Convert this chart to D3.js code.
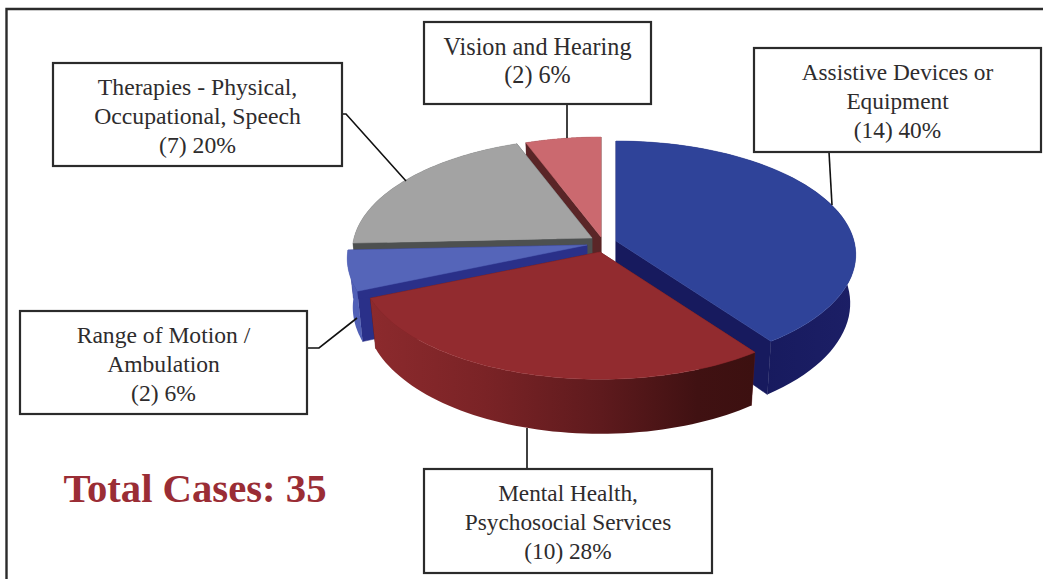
<!DOCTYPE html>
<html><head><meta charset="utf-8">
<script src="https://cdn.jsdelivr.net/npm/d3@7"></script>
<style>html,body{margin:0;padding:0;background:#fff}svg{display:block}text{font-family:"Liberation Serif",serif}</style>
</head><body><svg id="c" width="1043" height="579"></svg>
<script>
// ---- data ----
const categories = ["Assistive Devices or Equipment","Mental Health, Psychosocial Services","Range of Motion / Ambulation","Therapies - Physical, Occupational, Speech","Vision and Hearing"];
const counts = [14,10,2,7,2];
const percentLabels = ["40%","28%","6%","20%","6%"];
const labelLines = [["Assistive Devices or","Equipment"],["Mental Health,","Psychosocial Services"],["Range of Motion /","Ambulation"],["Therapies - Physical,","Occupational, Speech"],["Vision and Hearing"]];
const totalLabel = "Total Cases: 35";

// ---- layout and style ----
const apex = [[616,241],[600,252],[587,245],[592,238],[601,237]];
const topFill = ["#2f4399","#922b2f","#5565b9","#a3a3a3","#cb696f"];
const endWall = ["#171a5e","#5c1a1c","#2a3089","#4d5050","#5a2527"];
const rimWall = ["url(#rimBlue)","url(#rimRed)","#5160b6","#4d5050","#5a2527"];
const boxes = [[754,48,287,104,[80,109,138]],[424,469,288,104,[501,530,559]],[20,311,287,103,[343,372,401]],[53,63,289,103,[95,124,153]],[424,22,227,82,[55,83]]];
const labelSize = [23.3,23.3,23.6,23.7,24.2];
const leaders = [[[829,152],[832,205]],[[527,428],[527,469]],[[307,348],[319,348],[357,318]],[[342,114],[346,114],[406,181]],[[567,104],[567,138]]];
const rx=238, ry=112, p=0.12, depth=48, shrink=0.977;

const svg=d3.select("#c");
const defs=svg.append("defs");
function grad(id,stops){
  const g=defs.append("linearGradient").attr("id",id).attr("x1",0).attr("x2",1).attr("y1",0).attr("y2",0);
  stops.forEach(([o,c])=>g.append("stop").attr("offset",o).attr("stop-color",c));
}
grad("rimRed",[[0,"#8c2a2d"],[0.3,"#7a2326"],[0.6,"#5e1a1d"],[0.85,"#401112"],[1,"#3c1010"]]);
grad("rimBlue",[[0,"#15185a"],[0.6,"#171a5e"],[1,"#1c1f66"]]);

const pie=d3.pie().sort(null).startAngle(0).endAngle(2*Math.PI);
const arcs=pie(counts);
const line=d3.line();
// perspective projection of a point on the unit disc at height 0 (top) or 1 (floor)
function proj(r,a,floor,c){
  const u=r*Math.sin(a), v=-r*Math.cos(a), den=1-p*v;
  const x=rx*u/den, y=ry*v/den;
  return floor? [c[0]+x*shrink, c[1]+y+depth/den] : [c[0]+x, c[1]+y];
}
const angles=d=>d3.range(0,61).map(i=>d.startAngle+(d.endAngle-d.startAngle)*i/60);

const order=[4,3,2,0,1];
const g=svg.append("g");
order.forEach(i=>{
  const d=arcs[i], c=apex[i], as=angles(d);
  const s=g.append("g");
  [d.startAngle,d.endAngle].forEach(a=>{
    s.append("path").attr("fill",endWall[i]).attr("stroke",endWall[i]).attr("stroke-width",0.5)
     .attr("d",line([proj(0,a,0,c),proj(1,a,0,c),proj(1,a,1,c),proj(0,a,1,c)])+"Z");
  });
  const rim=as.map(a=>proj(1,a,0,c)).concat(as.slice().reverse().map(a=>proj(1,a,1,c)));
  s.append("path").attr("fill",rimWall[i]).attr("d",line(rim)+"Z");
  const top=[proj(0,0,0,c)].concat(as.map(a=>proj(1,a,0,c)));
  s.append("path").attr("fill",topFill[i]).attr("stroke",topFill[i]).attr("stroke-width",0.5).attr("d",line(top)+"Z");
});

// frame
svg.append("path").attr("d","M6.5,579V9H1043").attr("fill","none").attr("stroke","#2b2b2b").attr("stroke-width",2.4);

// leaders
leaders.forEach(l=>svg.append("path").attr("d",line(l)).attr("fill","none").attr("stroke","#111").attr("stroke-width",1.6));

// boxes and labels
boxes.forEach((b,i)=>{
  svg.append("rect").attr("x",b[0]).attr("y",b[1]).attr("width",b[2]).attr("height",b[3])
    .attr("fill","#fff").attr("stroke","#2b2b2b").attr("stroke-width",2.2);
  const lines=labelLines[i].concat([`(${counts[i]}) ${percentLabels[i]}`]);
  lines.forEach((t,j)=>svg.append("text").attr("x",b[0]+b[2]/2).attr("y",b[4][j]).attr("text-anchor","middle")
    .attr("font-size",labelSize[i]).attr("fill","#2e2c2d").text(t));
});
svg.append("text").attr("x",195).attr("y",502).attr("text-anchor","middle").attr("font-size",40.7).attr("font-weight","bold").attr("fill","#9a2d35").text(totalLabel);
</script></body></html>
